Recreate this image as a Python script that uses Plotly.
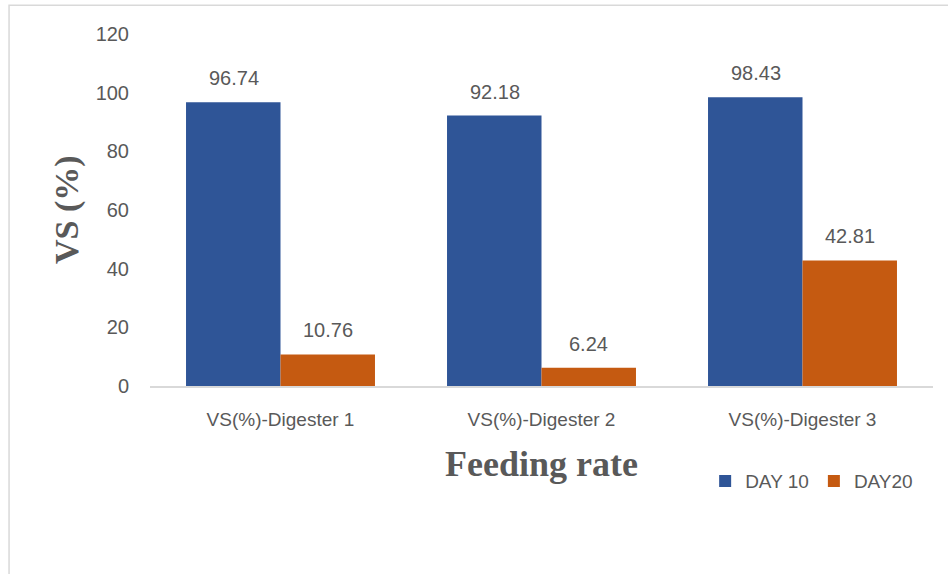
import plotly.graph_objects as go

categories = ["VS(%)-Digester 1", "VS(%)-Digester 2", "VS(%)-Digester 3"]
day10 = [96.74, 92.18, 98.43]
day20 = [10.76, 6.24, 42.81]
series_names = ["DAY 10", "DAY20"]
yticks = [0, 20, 40, 60, 80, 100, 120]

BLUE = "#2F5597"
ORANGE = "#C55A11"
GRAY = "#595959"
FONT = "Liberation Sans"

fig = go.Figure()
fig.add_trace(go.Bar(x=categories, y=day10, name=series_names[0], marker_color=BLUE,
                     marker_line_width=0))
fig.add_trace(go.Bar(x=categories, y=day20, name=series_names[1], marker_color=ORANGE,
                     marker_line_width=0))

# data labels
for vals, shift in ((day10, -47), (day20, 47)):
    for c, v in zip(categories, vals):
        fig.add_annotation(x=c, y=v, xref="x", yref="y", text=f"{v:.2f}",
                           showarrow=False, xshift=shift, yshift=24,
                           yanchor="middle",
                           font=dict(family=FONT, size=20, color=GRAY))

# axis titles
fig.add_annotation(x=-0.106, y=0.5, xref="paper", yref="paper", text="<b>VS (%)</b>",
                   textangle=-90, showarrow=False, xanchor="center", yanchor="middle",
                   font=dict(family="Liberation Serif", size=34, color=GRAY))
fig.add_annotation(x=0.5, y=-0.222, xref="paper", yref="paper", text="<b>Feeding rate</b>",
                   showarrow=False, xanchor="center", yanchor="middle",
                   font=dict(family="Liberation Serif", size=36, color=GRAY))

# chart frame border
fig.add_shape(type="rect", xref="paper", yref="paper", x0=-0.18, x1=1.2, y0=-0.7, y1=1.082,
              line=dict(color="#D9D9D9", width=1.5), fillcolor="rgba(0,0,0,0)", layer="below")

fig.update_layout(
    width=948, height=574,
    margin=dict(l=150, r=15, t=34, b=188),
    paper_bgcolor="white", plot_bgcolor="white",
    barmode="group", bargap=0.276, bargroupgap=0,
    showlegend=True,
    legend=dict(orientation="h", x=0.709, y=-0.27, xanchor="left", yanchor="middle",
                font=dict(family=FONT, size=19, color=GRAY), itemwidth=30,
                traceorder="normal"),
    xaxis=dict(showgrid=False, showline=True, linecolor="#D9D9D9", linewidth=1.5,
               ticks="", ticklabelstandoff=15,
               tickfont=dict(family=FONT, size=19, color=GRAY)),
    yaxis=dict(range=[0, 120], tickvals=yticks, showgrid=False, zeroline=False,
               showline=False, ticks="", ticklabelstandoff=20,
               tickfont=dict(family=FONT, size=20, color=GRAY)),
)

fig.write_html("out.html", config={"displayModeBar": False},
               post_script="document.body.style.margin='0';")
